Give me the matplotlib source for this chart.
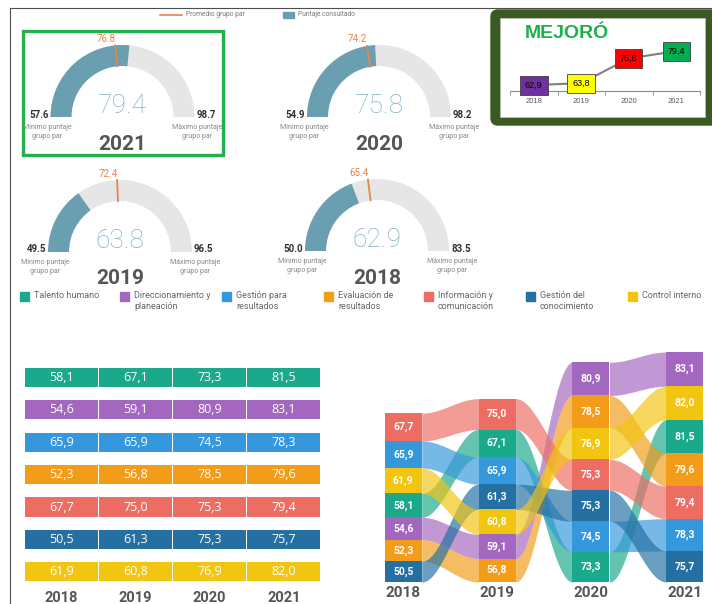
import numpy as np
import matplotlib.pyplot as plt
from matplotlib.patches import Wedge, Rectangle, FancyBboxPatch

plt.rcParams['font.family'] = ['Roboto', 'DejaVu Sans']

W, H = 712, 604

# Categories and colours (same order for table, legend and ribbons)
categories = ['Talento humano', 'Direccionamiento y\nplaneación', 'Gestión para\nresultados',
              'Evaluación de\nresultados', 'Información y\ncomunicación', 'Gestión del\nconocimiento',
              'Control interno']
cat_colors = ['#1AA98A', '#A467C0', '#3598DC', '#F39C19', '#EE6D63', '#2470A2', '#F2C511']
years = ['2018', '2019', '2020', '2021']

# Scores per category, 2018..2021
talento = [58.1, 67.1, 73.3, 81.5]
direccionamiento = [54.6, 59.1, 80.9, 83.1]
gestion_resultados = [65.9, 65.9, 74.5, 78.3]
evaluacion = [52.3, 56.8, 78.5, 79.6]
informacion = [67.7, 75.0, 75.3, 79.4]
conocimiento = [50.5, 61.3, 75.3, 75.7]
control = [61.9, 60.8, 76.9, 82.0]

# Gauges
gauge_years = ['2021', '2020', '2019', '2018']
gauge_score = [79.4, 75.8, 63.8, 62.9]
gauge_avg = [76.8, 74.2, 72.4, 65.4]
gauge_min = [57.6, 54.9, 49.5, 50.0]
gauge_max = [98.7, 98.2, 96.5, 83.5]

# Trend box
trend_scores = [62.9, 63.8, 75.8, 79.4]
trend_colors = ['#7030A0', '#FFFF00', '#FF0000', '#00B050']


def fmt(v):
    return f'{v:.1f}'.replace('.', ',')


fig = plt.figure(figsize=(W / 100, H / 100), dpi=100)


def px_axes(x0, y0, x1, y1):
    return fig.add_axes([x0 / W, 1 - y1 / H, (x1 - x0) / W, (y1 - y0) / H])


# background layer in pixel units
deco = px_axes(0, 0, W, H)
deco.set_xlim(0, W)
deco.set_ylim(H, 0)
deco.axis('off')
deco.plot([10, 10], [8, H], color='#4d4d4d', lw=0.8)
deco.plot([10, W], [8, 8], color='#4d4d4d', lw=0.8)

# top legend of gauges
deco.plot([160, 182], [15, 15], color='#E8834E', lw=1.2)
deco.text(186, 15, 'Promedio grupo par', fontsize=4.8, color='#777', va='center')
deco.add_patch(Rectangle((283, 12), 11, 6, color='#6A9FB1'))
deco.text(298, 15, 'Puntaje consultado', fontsize=4.8, color='#777', va='center')

# green frame around 2021
deco.add_patch(Rectangle((23, 31), 200, 124, fill=False, ec='#22B14C', lw=2.4))

# gauges
gauge_centers = [(122.5, 117), (379, 117), (120, 252), (377, 251)]
for i, (cx, cy) in enumerate(gauge_centers):
    ax = px_axes(cx - 105, cy - 85, cx + 105, cy + 35)
    ax.set_xlim(-105, 105)
    ax.set_ylim(-35, 85)
    ax.axis('off')
    lo, hi = gauge_min[i], gauge_max[i]

    def ang(v):
        return 180 - 180 * (v - lo) / (hi - lo)

    ax.add_patch(Wedge((0, 0), 72, 0, 180, width=21, color='#E6E6E6', lw=0))
    ax.add_patch(Wedge((0, 0), 72, ang(gauge_score[i]), 180, width=21, color='#6A9FB1', lw=0))
    a = np.radians(ang(gauge_avg[i]))
    ax.plot([51 * np.cos(a), 72 * np.cos(a)], [51 * np.sin(a), 72 * np.sin(a)],
            color='#E8834E', lw=1.3)
    ax.text(72 * np.cos(a) - 9, 78, f'{gauge_avg[i]:.1f}', color='#E8834E', fontsize=7,
            ha='center', va='center')
    ax.text(0, 11, f'{gauge_score[i]:.1f}', color='#7FB1C4', fontsize=19, fontweight='light',
            ha='center', va='center')
    ax.text(0, -27, gauge_years[i], color='#555555', fontsize=15, fontweight='bold',
            ha='center', va='center')
    ax.text(-74, 2.5, f'{lo:.1f}', color='#333', fontsize=7, fontweight='bold',
            ha='right', va='center')
    ax.text(74, 2.5, f'{hi:.1f}', color='#333', fontsize=7, fontweight='bold',
            ha='left', va='center')
    ax.text(-75, -15, 'Mínimo puntaje\ngrupo par', color='#888', fontsize=5,
            ha='center', va='center', linespacing=1.5)
    ax.text(75, -15, 'Máximo puntaje\ngrupo par', color='#888', fontsize=5,
            ha='center', va='center', linespacing=1.5)

# category legend
legend_x = [20, 120, 222, 324, 424, 526, 628]
for x, lab, col in zip(legend_x, categories, cat_colors):
    deco.add_patch(Rectangle((x, 292), 9, 9, color=col))
    deco.text(x + 14, 290.5, lab, fontsize=6.5, color='#666', va='top', linespacing=1.35)

# MEJORÓ box
deco.add_patch(FancyBboxPatch((491, 10), 240, 115, boxstyle='round,pad=0,rounding_size=7',
                              color='#3A5A22'))
deco.add_patch(Rectangle((500, 18), 205, 99, facecolor='white', edgecolor='#BFBFBF', lw=0.5))
deco.text(567, 33, 'MEJORÓ', color='#1DB04B', fontsize=14, fontweight='bold',
          family='Liberation Sans', ha='center', va='center')

mini = px_axes(510, 40, 700, 91)
mini.set_xlim(-0.5, 3.5)
mini.set_ylim(60, 84.8)
mini.set_facecolor('none')
mini.plot(range(4), trend_scores, color='#7F7F7F', lw=1.5)
for i, v in enumerate(trend_scores):
    mini.text(i, v, fmt(v), fontsize=6.5, ha='center', va='center', color='black',
              family='Liberation Sans',
              bbox=dict(boxstyle='square,pad=0.55', fc=trend_colors[i], ec='#404040', lw=0.6))
for s in ['top', 'left', 'right']:
    mini.spines[s].set_visible(False)
mini.spines['bottom'].set_color('#8c8c8c')
mini.spines['bottom'].set_linewidth(0.8)
mini.set_yticks([])
mini.set_xticks(range(4), years)
mini.set_xticks(np.arange(-0.5, 4, 1), minor=True)
mini.tick_params(axis='x', which='major', length=0, labelsize=5.5, labelcolor='#595959', pad=5)
mini.tick_params(axis='x', which='minor', length=3, color='#8c8c8c', width=0.6)
for t in mini.get_xticklabels():
    t.set_family('Liberation Sans')

# table of category scores
rows = [talento, direccionamiento, gestion_resultados, evaluacion, informacion, conocimiento, control]
tab = px_axes(24, 361.3, 321, 588)
tab.set_xlim(-0.5, 3.5)
tab.set_ylim(6.5, -0.5)
tab.set_facecolor('none')
for r, (vals, col) in enumerate(zip(rows, cat_colors)):
    tab.barh([r] * 4, [0.985] * 4, left=np.arange(4) - 0.4925, height=0.59, color=col)
    for c, v in enumerate(vals):
        tab.text(c, r, fmt(v), color='white', fontsize=9, ha='center', va='center',
                 family='Open Sans')
for s in tab.spines.values():
    s.set_visible(False)
tab.set_yticks([])
tab.set_xticks(range(4), years)
tab.tick_params(axis='x', length=0, labelsize=10.5, labelcolor='#555555', pad=2)
for t in tab.get_xticklabels():
    t.set_fontweight('bold')

# ribbon ranking chart
vals = np.array(rows)  # categories x years
n_cat, n_year = vals.shape
bottoms = np.zeros_like(vals)
for j in range(n_year):
    order = np.lexsort((-np.arange(n_cat), vals[:, j]))
    bottoms[order, j] = np.concatenate([[0], np.cumsum(vals[order, j])[:-1]])
tops = bottoms + vals

bump = px_axes(384.5, 352, 703.5, 582)
bump.set_xlim(-0.2, 3.2)
bump.set_ylim(0, tops.max())
bump.set_facecolor('none')
bw = 0.394
for k in range(n_cat):
    for j in range(n_year - 1):
        xs = np.linspace(j + bw / 2, j + 1 - bw / 2, 60)
        s = (1 - np.cos(np.pi * (xs - xs[0]) / (xs[-1] - xs[0]))) / 2
        y0 = bottoms[k, j] + (bottoms[k, j + 1] - bottoms[k, j]) * s
        y1 = tops[k, j] + (tops[k, j + 1] - tops[k, j]) * s
        bump.fill_between(xs, y0, y1, color=cat_colors[k], alpha=0.68, lw=0)
for k in range(n_cat):
    bump.bar(range(n_year), vals[k], bottom=bottoms[k], width=bw, color=cat_colors[k], lw=0)
    for j in range(n_year):
        bump.text(j, bottoms[k, j] + vals[k, j] / 2, fmt(vals[k, j]), color='white',
                  fontsize=7.5, fontweight='bold', ha='center', va='center')
for s in bump.spines.values():
    s.set_visible(False)
bump.set_yticks([])
bump.set_xticks(range(4), years)
bump.tick_params(axis='x', length=0, labelsize=11, labelcolor='#555555', pad=3)
for t in bump.get_xticklabels():
    t.set_fontweight('bold')

fig.savefig('out.png', dpi=100)
